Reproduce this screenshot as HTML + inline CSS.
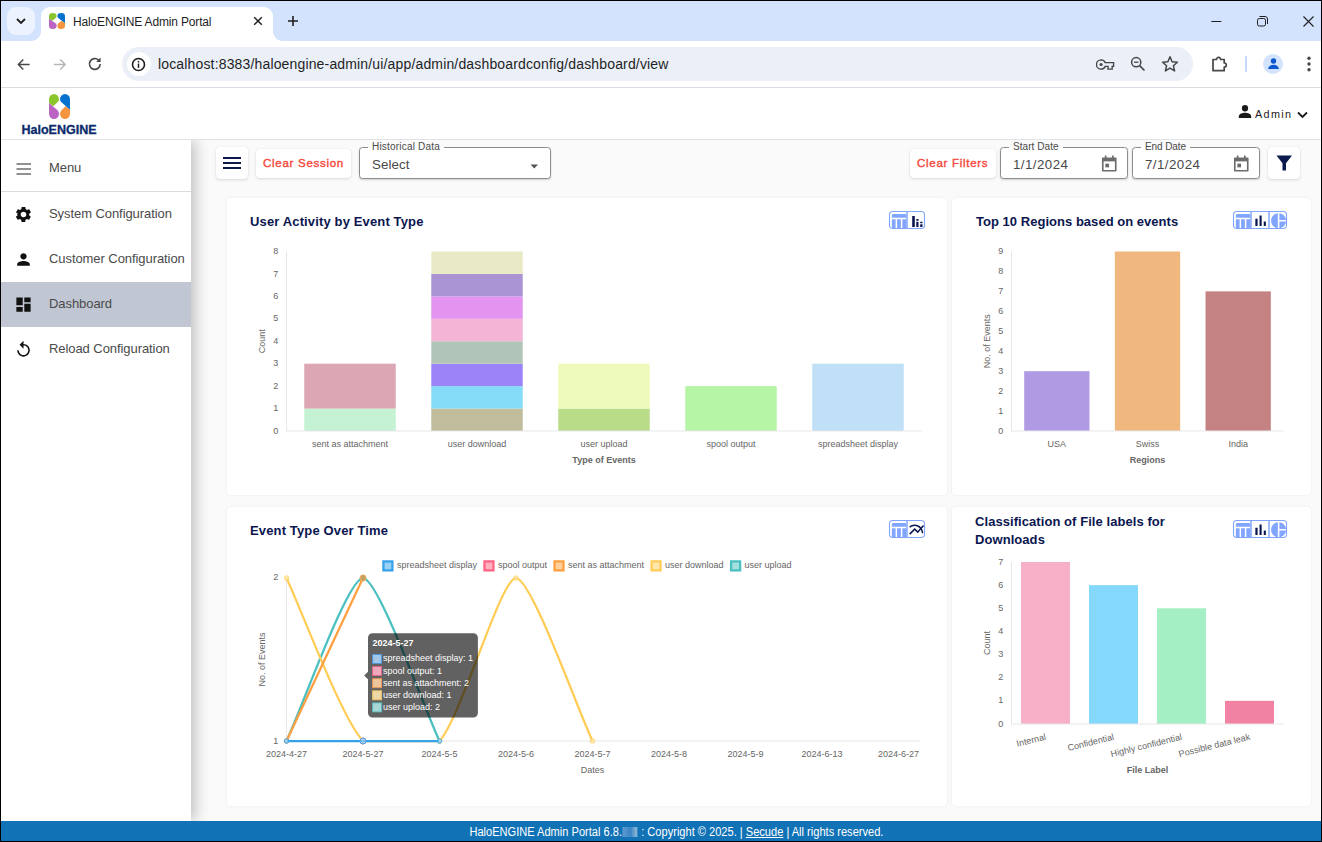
<!DOCTYPE html>
<html lang="en">
<head>
<meta charset="utf-8">
<title>HaloENGINE Admin Portal</title>
<style>
*{box-sizing:border-box;margin:0;padding:0}
html,body{width:1322px;height:842px;overflow:hidden;background:#000;font-family:"Liberation Sans",sans-serif}
.abs{position:absolute}
#win{position:absolute;left:1px;top:1px;width:1320px;height:840px;background:#fff;overflow:hidden}
/* ---------- browser chrome ---------- */
#tabstrip{position:absolute;left:0;top:0;width:1320px;height:40px;background:#d3e3fd}
#tabsearch{position:absolute;left:6px;top:6px;width:28px;height:28px;border-radius:9px;background:#ecf2fe}
#tab{position:absolute;left:40px;top:6px;width:232px;height:34px;background:#fff;border-radius:9px 9px 0 0}
#tab:before,#tab:after{content:"";position:absolute;bottom:0;width:10px;height:10px;background:radial-gradient(circle at 0 0,rgba(255,255,255,0) 9.5px,#fff 10.5px)}
#tab:before{left:-10px}
#tab:after{right:-10px;background:radial-gradient(circle at 100% 0,rgba(255,255,255,0) 9.5px,#fff 10.5px)}
#tabtitle{position:absolute;left:32px;top:8px;font-size:12px;color:#1f1f1f;white-space:nowrap;letter-spacing:-.16px}
#toolbar{position:absolute;left:0;top:40px;width:1320px;height:46px;background:#fff;border-radius:9px 0 0 0}
#toolbarline{position:absolute;left:0;top:86px;width:1320px;height:1px;background:#dadce0}
#omni{position:absolute;left:121px;top:46px;width:1071px;height:34px;border-radius:17px;background:#ebeff8}
#omniicon{position:absolute;left:4.5px;top:5px;width:24px;height:24px;border-radius:12px;background:#fff}
#url{position:absolute;left:36px;top:9px;font-size:14px;color:#1f1f1f;white-space:nowrap;letter-spacing:.155px}
/* ---------- app ---------- */
#apphead{position:absolute;left:0;top:87px;width:1320px;height:52px;background:#fff;border-bottom:1px solid #dfe2e6}
#side{position:absolute;left:0;top:139px;width:190px;height:681px;background:#fff;box-shadow:4px 0 14px rgba(0,0,0,.24);z-index:3;clip-path:inset(0 -40px 0 0)}
.sitem{position:absolute;left:0;width:190px;height:45px}
.sitem span{position:absolute;left:48px;top:14px;font-size:13px;color:#4a4a4a;white-space:nowrap;letter-spacing:-.07px}
.sitem svg{position:absolute;left:13px;top:13px}
#main{position:absolute;left:190px;top:139px;width:1130px;height:681px;background:#fafafa}
.card{position:absolute;background:#fff;border-radius:4px;box-shadow:0 0 3px rgba(0,0,0,.07)}
.ctitle{position:absolute;font-size:13px;font-weight:bold;color:#0b1650;white-space:nowrap;letter-spacing:.14px;line-height:18px}
.btn{position:absolute;background:#fff;border-radius:4px;box-shadow:0 1px 3px rgba(0,0,0,.13),0 0 1px rgba(0,0,0,.10)}
.btn span{position:absolute;white-space:nowrap;font-size:11.5px;font-weight:normal;color:#f4483c;letter-spacing:.72px;-webkit-text-stroke:.38px #f4483c}
.field{position:absolute;border:1px solid #8c8c8c;border-radius:3.500px;background:#fff;box-shadow:0 1px 2px rgba(0,0,0,.18)}
.field label{position:absolute;top:-7px;left:8px;background:linear-gradient(#fafafa 0,#fafafa 7px,#fff 7px);padding:0 4px;font-size:10px;color:#4a4a4a;white-space:nowrap;letter-spacing:.2px;line-height:12px}
.field .val{position:absolute;left:12px;top:9px;font-size:13.3px;color:#484848;white-space:nowrap;letter-spacing:.45px}
#footer{position:absolute;left:0;top:820px;width:1320px;height:20px;background:#1272b6;color:#fff;font-size:12px;text-align:center;line-height:22px;white-space:nowrap;padding-left:31px}
#footer>span{display:inline-block;transform:scaleX(.9225);transform-origin:50% 50%}
#footer u{text-decoration:underline}
svg text{font-family:"Liberation Sans",sans-serif}
</style>
</head>
<body>
<div id="win">
  <!-- browser chrome -->
  <div id="tabstrip">
    <div id="tabsearch"><svg class="abs" style="left:8px;top:9px" width="12" height="10" viewBox="0 0 12 10"><path d="M2 3 L6 7 L10 3" fill="none" stroke="#1f1f1f" stroke-width="1.8"/></svg></div>
    <div id="tab">
      <svg class="abs" style="left:8px;top:6px" width="16" height="16" viewBox="0 0 21 25" preserveAspectRatio="none"><use href="#halologo"/></svg>
      <div id="tabtitle">HaloENGINE Admin Portal</div>
      <svg class="abs" style="left:211px;top:8px" width="12" height="12" viewBox="0 0 12 12"><path d="M2.200 2.200 L9.800 9.800 M9.800 2.200 L2.200 9.800" stroke="#1f1f1f" stroke-width="1.500" fill="none"/></svg>
    </div>
    <svg class="abs" style="left:285px;top:13px" width="14" height="14" viewBox="0 0 14 14"><path d="M7 2 V12 M2 7 H12" stroke="#1f1f1f" stroke-width="1.600" fill="none"/></svg>
    <!-- window controls -->
    <svg class="abs" style="left:1210px;top:14px" width="12" height="12" viewBox="0 0 12 12"><path d="M0.3 6.5 H10.3" stroke="#1f1f1f" stroke-width="1"/></svg>
    <svg class="abs" style="left:1256px;top:14px" width="12" height="12" viewBox="0 0 12 12"><rect x="0.5" y="3.5" width="8" height="7.5" rx="1.800" fill="none" stroke="#1f1f1f" stroke-width="1"/><path d="M2.500 1.500 H8 A2.500 2.500 0 0 1 10.500 4 V9" fill="none" stroke="#1f1f1f" stroke-width="1"/></svg>
    <svg class="abs" style="left:1302px;top:15px" width="11" height="11" viewBox="0 0 11 11"><path d="M0.500 0.500 L10.500 10.500 M10.500 0.500 L0.500 10.500" stroke="#1f1f1f" stroke-width="1.100"/></svg>
  </div>
  <div id="toolbar"></div>
  <div id="toolbarline"></div>
  <!-- nav icons -->
  <svg class="abs" style="left:16px;top:56.500px" width="13.500" height="13" viewBox="0 0 15 14"><path d="M14 7 H2 M7 1.5 L1.5 7 L7 12.5" fill="none" stroke="#444746" stroke-width="1.6"/></svg>
  <svg class="abs" style="left:52px;top:56.500px" width="13.500" height="13" viewBox="0 0 15 14"><path d="M1 7 H13 M8 1.5 L13.5 7 L8 12.5" fill="none" stroke="#b4b6b9" stroke-width="1.6"/></svg>
  <svg class="abs" style="left:86px;top:55px" width="16" height="16" viewBox="0 0 16 16"><path d="M13.2 8 A5.4 5.4 0 1 1 11.6 4.1" fill="none" stroke="#444746" stroke-width="1.6"/><path d="M13.6 1.6 V6 H9.2 Z" fill="#444746"/></svg>
  <div id="omni">
    <div id="omniicon"><svg class="abs" style="left:4.500px;top:4.500px" width="15" height="15" viewBox="0 0 16 16"><circle cx="8" cy="8" r="6.400" fill="none" stroke="#1f1f1f" stroke-width="1.700"/><rect x="7.2" y="7" width="1.6" height="4.6" fill="#1f1f1f"/><rect x="7.2" y="4.2" width="1.6" height="1.7" fill="#1f1f1f"/></svg></div>
    <div id="url">localhost:8383/haloengine-admin/ui/app/admin/dashboardconfig/dashboard/view</div>
    <!-- key -->
    <svg class="abs" style="left:974px;top:10.500px" width="18.500" height="13" viewBox="0 0 20 14"><path d="M5.5 2 A5 5 0 1 0 5.5 12 A5 5 0 0 0 10 9 H13 V12 H17.5 V9 H19 V5 H10 A5 5 0 0 0 5.5 2 Z" fill="none" stroke="#444746" stroke-width="1.5"/><circle cx="5.5" cy="7" r="1.7" fill="#444746"/></svg>
    <!-- zoom -->
    <svg class="abs" style="left:1008px;top:9px" width="16" height="16" viewBox="0 0 16 16"><circle cx="6.2" cy="6.2" r="4.6" fill="none" stroke="#444746" stroke-width="1.5"/><path d="M9.6 9.6 L14.5 14.5" stroke="#444746" stroke-width="1.7"/><path d="M4 6.2 H8.4" stroke="#444746" stroke-width="1.3"/></svg>
    <!-- star -->
    <svg class="abs" style="left:1039px;top:8px" width="18" height="18" viewBox="0 0 18 18"><path d="M9 1.8 L11.1 6.7 L16.4 7.2 L12.4 10.7 L13.6 15.9 L9 13.1 L4.4 15.9 L5.6 10.7 L1.6 7.2 L6.9 6.7 Z" fill="none" stroke="#444746" stroke-width="1.5" stroke-linejoin="round"/></svg>
  </div>
  <!-- extension puzzle -->
  <svg class="abs" style="left:1210px;top:54px" width="18" height="18" viewBox="0 0 18 18"><path d="M2 4.500 H5.500 A2.100 2.100 0 1 1 9.700 4.500 H13.200 V8 A2.100 2.100 0 1 1 13.200 12.200 V15.700 H2 Z" fill="none" stroke="#444746" stroke-width="1.700" stroke-linejoin="round"/></svg>
  <div class="abs" style="left:1244px;top:55px;width:2px;height:16px;background:#c4d8f8;border-radius:1px"></div>
  <div class="abs" style="left:1262px;top:53px;width:20px;height:20px;border-radius:10px;background:#d3e3fd"></div>
  <svg class="abs" style="left:1265.500px;top:56px" width="13" height="13" viewBox="0 0 14 14"><circle cx="7" cy="4.3" r="2.9" fill="#0b57d0"/><path d="M1.2 13 A5.8 4.6 0 0 1 12.800 13 Z" fill="#0b57d0"/></svg>
  <svg class="abs" style="left:1306px;top:55px" width="4" height="16" viewBox="0 0 4 16"><circle cx="2" cy="2.300" r="1.700" fill="#444746"/><circle cx="2" cy="8" r="1.700" fill="#444746"/><circle cx="2" cy="13.700" r="1.700" fill="#444746"/></svg>

  <!-- app header -->
  <div id="apphead">
    <svg width="0" height="0" style="position:absolute"><defs>
      <g id="halologo">
        <path d="M0 5.2 A5 5.200 0 0 1 10 5.200 Q10 7 8.500 8.300 L4.200 12.300 L0 9 Z" fill="#8cc62d"/>
        <path d="M0 9 L8.500 16.200 Q10 17.800 10 19.800 A5 5.200 0 0 1 0 19.800 Z" fill="#ba63c2"/>
        <path d="M21 5.200 A5 5.200 0 0 0 11 5.200 Q11 7 12.500 8.300 L21 16 Z" fill="#0472ce"/>
        <path d="M16.500 12.200 L21 16 V19.800 A5 5.200 0 0 1 11 19.800 Q11 17.800 12.500 16.200 Z" fill="#f7943e"/>
      </g>
    </defs></svg>
    <svg class="abs" style="left:48px;top:6px" width="21" height="25" viewBox="0 0 21 25"><use href="#halologo"/></svg>
    <div class="abs" style="left:20.500px;top:36px;font-size:12.5px;font-weight:bold;color:#0b2a6b;white-space:nowrap;letter-spacing:0;line-height:12px;-webkit-text-stroke:.3px #0b2a6b">HaloENGINE</div>
    <svg class="abs" style="left:1237px;top:16px" width="14" height="15" viewBox="0 0 14 14" preserveAspectRatio="none"><circle cx="7" cy="4" r="3.100" fill="#1a1a1a"/><path d="M0.800 13 V11.600 C0.800 9.200 4.800 8.200 7 8.200 C9.200 8.200 13.200 9.200 13.200 11.600 V13 Z" fill="#1a1a1a"/></svg>
    <div class="abs" style="left:1254px;top:20px;font-size:10.800px;color:#222;letter-spacing:1.35px;white-space:nowrap;line-height:13px">Admin</div>
    <svg class="abs" style="left:1296px;top:22.500px" width="11" height="8" viewBox="0 0 11 8"><path d="M1 1.500 L5.500 6 L10 1.500" fill="none" stroke="#1a1a1a" stroke-width="1.800"/></svg>
  </div>

  <!-- main -->
  <div id="main"></div>

  <!-- sidebar -->
  <div id="side">
    <div class="sitem" style="top:6px"><svg width="19" height="19" viewBox="0 0 19 19"><path d="M2.500 5 H17 M2.500 10 H17 M2.500 15 H17" stroke="#222" stroke-width="1.200"/></svg><span>Menu</span></div>
    <div class="abs" style="left:0;top:51px;width:190px;height:1px;background:#dcdcdc"></div>
    <div class="sitem" style="top:52px"><svg width="19" height="19" viewBox="0 0 24 24"><path fill="#111" d="M19.140 12.940c.04-.3.060-.61.060-.94 0-.32-.02-.64-.07-.94l2.030-1.580c.18-.14.230-.41.120-.61l-1.920-3.320c-.12-.22-.37-.29-.59-.22l-2.390.96c-.5-.38-1.030-.7-1.620-.94l-.36-2.540c-.04-.24-.24-.41-.48-.41h-3.840c-.24 0-.43.170-.47.410l-.36 2.540c-.59.240-1.130.57-1.620.94l-2.390-.96c-.22-.08-.47 0-.59.220L2.740 8.870c-.12.210-.8.470.12.610l2.030 1.580c-.5.300-.9.630-.9.940s.2.640.7.940l-2.030 1.580c-.18.140-.23.410-.12.610l1.920 3.320c.12.220.37.290.59.220l2.390-.96c.5.380 1.030.7 1.620.94l.36 2.540c.5.240.24.410.48.410h3.840c.24 0 .44-.17.470-.41l.36-2.540c.59-.24 1.130-.56 1.620-.94l2.390.96c.22.080.47 0 .59-.22l1.920-3.320c.12-.22.070-.47-.12-.61l-2.010-1.580zM12 15.600c-1.980 0-3.600-1.620-3.600-3.600s1.620-3.600 3.600-3.600 3.600 1.620 3.600 3.600-1.620 3.600-3.600 3.600z"/></svg><span>System Configuration</span></div>
    <div class="sitem" style="top:97px"><svg width="19" height="19" viewBox="0 0 24 24"><path fill="#111" d="M12 12c2.210 0 4-1.790 4-4s-1.790-4-4-4-4 1.790-4 4 1.790 4 4 4zm0 2c-2.670 0-8 1.340-8 4v2h16v-2c0-2.660-5.330-4-8-4z"/></svg><span>Customer Configuration</span></div>
    <div class="sitem" style="top:142px;background:#c0c7d2"><svg width="19" height="19" viewBox="0 0 24 24"><path fill="#111" d="M3 13h8V3H3v10zm0 8h8v-6H3v6zm10 0h8V11h-8v10zm0-18v6h8V3h-8z"/></svg><span>Dashboard</span></div>
    <div class="sitem" style="top:187px"><svg width="19" height="19" viewBox="0 0 24 24"><path fill="#111" d="M12 5V1L7 6l5 5V7c3.310 0 6 2.690 6 6s-2.690 6-6 6-6-2.690-6-6H4c0 4.420 3.580 8 8 8s8-3.580 8-8-3.580-8-8-8z"/></svg><span>Reload Configuration</span></div>
  </div>

  <!-- toolbar row -->
  <div class="btn" style="left:215px;top:146px;width:32px;height:32px"><svg class="abs" style="left:7px;top:10px" width="18" height="12" viewBox="0 0 18 12"><path d="M0 1 H18 M0 6 H18 M0 11 H18" stroke="#0b1a4d" stroke-width="1.800"/></svg></div>
  <div class="btn" style="left:255px;top:148px;width:95px;height:29px"><span style="left:7px;top:8px">Clear Session</span></div>
  <div class="field" style="left:358px;top:146px;width:192px;height:32px"><label>Historical Data</label><div class="val" style="left:12px;letter-spacing:.1px">Select</div><svg class="abs" style="left:170px;top:15.500px" width="8.500" height="5" viewBox="0 0 10 6"><path d="M0.500 0.500 H9.500 L5 5.300 Z" fill="#555"/></svg></div>
  <div class="btn" style="left:909px;top:148px;width:86px;height:29px"><span style="left:7px;top:8px">Clear Filters</span></div>
  <div class="field" style="left:999px;top:146px;width:128px;height:32px"><label style="letter-spacing:.07px">Start Date</label><div class="val">1/1/2024</div><svg class="abs cal" style="left:99.500px;top:6.500px" width="16.500" height="17.500" viewBox="0 0 16 17"><use href="#calicon"/></svg></div>
  <div class="field" style="left:1131px;top:146px;width:128px;height:32px"><label style="letter-spacing:-.1px">End Date</label><div class="val">7/1/2024</div><svg class="abs cal" style="left:99.500px;top:6.500px" width="16.500" height="17.500" viewBox="0 0 16 17"><use href="#calicon"/></svg></div>
  <svg width="0" height="0" style="position:absolute"><defs><g id="calicon"><path d="M1.700 3.200 H14.300 V15.300 H1.700 Z" fill="none" stroke="#6c6c6c" stroke-width="1.600" stroke-linejoin="round"/><path d="M1.700 3.200 H14.300 V6.200 H1.700 Z" fill="#6c6c6c"/><path d="M4.500 0.600 V3.500 M11.500 0.600 V3.500" stroke="#6c6c6c" stroke-width="1.600"/><rect x="4.200" y="8.400" width="3.600" height="3.600" fill="#6c6c6c"/></g></defs></svg>
  <div class="btn" style="left:1267px;top:146px;width:32px;height:32px"><svg class="abs" style="left:8px;top:8px" width="16.500" height="16.500" viewBox="0 0 17 17"><path d="M0.500 0.500 H16.500 L10.300 8.400 V16 H6.700 V8.400 Z" fill="#0b1a4d"/></svg></div>

  <!-- cards -->
  <div class="card" id="c1" style="left:226px;top:197px;width:720px;height:297px"><div class="ctitle" style="left:23px;top:15px">User Activity by Event Type</div></div>
  <div class="card" id="c2" style="left:951px;top:197px;width:359px;height:297px"><div class="ctitle" style="left:24px;top:15px;letter-spacing:.03px">Top 10 Regions based on events</div></div>
  <div class="card" id="c3" style="left:226px;top:506px;width:720px;height:299px"><div class="ctitle" style="left:23px;top:15px">Event Type Over Time</div></div>
  <div class="card" id="c4" style="left:951px;top:506px;width:359px;height:299px"><div class="ctitle" style="left:23px;top:6px;white-space:normal;width:230px;letter-spacing:.065px">Classification of File labels for Downloads</div></div>

<!--CHARTS-->
<svg id="charts" class="abs" style="left:0;top:0" width="1320" height="840" viewBox="1 1 1320 840">
<g id="chart1">
<rect x="304.28" y="408.56" width="91.44" height="22.44" fill="#c4f2d2"/>
<rect x="304.28" y="363.69" width="91.44" height="44.88" fill="#dda6b4"/>
<text x="350" y="447" text-anchor="middle" font-size="9" fill="#666">sent as attachment</text>
<rect x="431.28" y="408.56" width="91.44" height="22.44" fill="#c0bc9c"/>
<rect x="431.28" y="386.12" width="91.44" height="22.44" fill="#84dcf8"/>
<rect x="431.28" y="363.69" width="91.44" height="22.44" fill="#9c84f8"/>
<rect x="431.28" y="341.25" width="91.44" height="22.44" fill="#b0c4b8"/>
<rect x="431.28" y="318.81" width="91.44" height="22.44" fill="#f4b4d6"/>
<rect x="431.28" y="296.38" width="91.44" height="22.44" fill="#e294f0"/>
<rect x="431.28" y="273.94" width="91.44" height="22.44" fill="#aa94d4"/>
<rect x="431.28" y="251.5" width="91.44" height="22.44" fill="#e8eac6"/>
<text x="477" y="447" text-anchor="middle" font-size="9" fill="#666">user download</text>
<rect x="558.28" y="408.56" width="91.44" height="22.44" fill="#b8dc88"/>
<rect x="558.28" y="363.69" width="91.44" height="44.88" fill="#eefabc"/>
<text x="604" y="447" text-anchor="middle" font-size="9" fill="#666">user upload</text>
<rect x="685.28" y="386.12" width="91.44" height="44.88" fill="#b6f4a6"/>
<text x="731" y="447" text-anchor="middle" font-size="9" fill="#666">spool output</text>
<rect x="812.28" y="363.69" width="91.44" height="67.31" fill="#c0e0f8"/>
<text x="858" y="447" text-anchor="middle" font-size="9" fill="#666">spreadsheet display</text>
<line x1="286.5" y1="251.5" x2="286.5" y2="431.5" stroke="#e7e7e7" stroke-width="1"/>
<line x1="286" y1="431" x2="921.5" y2="431" stroke="#e7e7e7" stroke-width="1"/>
<text x="278.2" y="433.6" text-anchor="end" font-size="9" fill="#666">0</text>
<text x="278.2" y="411.16" text-anchor="end" font-size="9" fill="#666">1</text>
<text x="278.2" y="388.73" text-anchor="end" font-size="9" fill="#666">2</text>
<text x="278.2" y="366.29" text-anchor="end" font-size="9" fill="#666">3</text>
<text x="278.2" y="343.85" text-anchor="end" font-size="9" fill="#666">4</text>
<text x="278.2" y="321.41" text-anchor="end" font-size="9" fill="#666">5</text>
<text x="278.2" y="298.98" text-anchor="end" font-size="9" fill="#666">6</text>
<text x="278.2" y="276.54" text-anchor="end" font-size="9" fill="#666">7</text>
<text x="278.2" y="254.1" text-anchor="end" font-size="9" fill="#666">8</text>
<text x="604" y="463" text-anchor="middle" font-size="9" font-weight="bold" fill="#666">Type of Events</text>
<text transform="translate(264.8 341.25) rotate(-90)" text-anchor="middle" font-size="9" fill="#666">Count</text>
</g>
<g id="chart2">
<rect x="1024.19" y="371.17" width="65.28" height="59.83" fill="#b09ae4"/>
<text x="1056.83" y="447" text-anchor="middle" font-size="9" fill="#666">USA</text>
<rect x="1114.86" y="251.5" width="65.28" height="179.5" fill="#f0b87e"/>
<text x="1147.5" y="447" text-anchor="middle" font-size="9" fill="#666">Swiss</text>
<rect x="1205.53" y="291.39" width="65.28" height="139.61" fill="#c58282"/>
<text x="1238.17" y="447" text-anchor="middle" font-size="9" fill="#666">India</text>
<line x1="1011.5" y1="251.5" x2="1011.5" y2="431.5" stroke="#e7e7e7" stroke-width="1"/>
<line x1="1011" y1="431" x2="1283.5" y2="431" stroke="#e7e7e7" stroke-width="1"/>
<text x="1003.2" y="433.6" text-anchor="end" font-size="9" fill="#666">0</text>
<text x="1003.2" y="413.66" text-anchor="end" font-size="9" fill="#666">1</text>
<text x="1003.2" y="393.71" text-anchor="end" font-size="9" fill="#666">2</text>
<text x="1003.2" y="373.77" text-anchor="end" font-size="9" fill="#666">3</text>
<text x="1003.2" y="353.82" text-anchor="end" font-size="9" fill="#666">4</text>
<text x="1003.2" y="333.88" text-anchor="end" font-size="9" fill="#666">5</text>
<text x="1003.2" y="313.93" text-anchor="end" font-size="9" fill="#666">6</text>
<text x="1003.2" y="293.99" text-anchor="end" font-size="9" fill="#666">7</text>
<text x="1003.2" y="274.04" text-anchor="end" font-size="9" fill="#666">8</text>
<text x="1003.2" y="254.1" text-anchor="end" font-size="9" fill="#666">9</text>
<text x="1147.5" y="463" text-anchor="middle" font-size="9" font-weight="bold" fill="#666">Regions</text>
<text transform="translate(990.2 341.25) rotate(-90)" text-anchor="middle" font-size="9" fill="#666">No. of Events</text>
</g>
<g id="chart4">
<rect x="1021.02" y="562" width="48.96" height="162" fill="#f7b0c8"/>
<text transform="translate(1046.5 739.5) rotate(-14)" text-anchor="end" font-size="9" fill="#666">Internal</text>
<rect x="1089.02" y="585.14" width="48.96" height="138.86" fill="#84d8fc"/>
<text transform="translate(1114.5 739.5) rotate(-14)" text-anchor="end" font-size="9" fill="#666">Confidential</text>
<rect x="1157.02" y="608.29" width="48.96" height="115.71" fill="#a4f0c4"/>
<text transform="translate(1182.5 739.5) rotate(-14)" text-anchor="end" font-size="9" fill="#666">Highly confidential</text>
<rect x="1225.02" y="700.86" width="48.96" height="23.14" fill="#f282a4"/>
<text transform="translate(1250.5 739.5) rotate(-14)" text-anchor="end" font-size="9" fill="#666">Possible data leak</text>
<line x1="1011.5" y1="562" x2="1011.5" y2="724.5" stroke="#e7e7e7" stroke-width="1"/>
<line x1="1011" y1="724" x2="1283.5" y2="724" stroke="#e7e7e7" stroke-width="1"/>
<text x="1003.2" y="726.6" text-anchor="end" font-size="9" fill="#666">0</text>
<text x="1003.2" y="703.46" text-anchor="end" font-size="9" fill="#666">1</text>
<text x="1003.2" y="680.31" text-anchor="end" font-size="9" fill="#666">2</text>
<text x="1003.2" y="657.17" text-anchor="end" font-size="9" fill="#666">3</text>
<text x="1003.2" y="634.03" text-anchor="end" font-size="9" fill="#666">4</text>
<text x="1003.2" y="610.89" text-anchor="end" font-size="9" fill="#666">5</text>
<text x="1003.2" y="587.74" text-anchor="end" font-size="9" fill="#666">6</text>
<text x="1003.2" y="564.6" text-anchor="end" font-size="9" fill="#666">7</text>
<text x="1147.5" y="773" text-anchor="middle" font-size="9" font-weight="bold" fill="#666">File Label</text>
<text transform="translate(990.2 643) rotate(-90)" text-anchor="middle" font-size="9" fill="#666">Count</text>
</g>
<g id="chart3">
<line x1="286.5" y1="578" x2="286.5" y2="741.5" stroke="#e7e7e7" stroke-width="1"/>
<line x1="286" y1="741" x2="919.5" y2="741" stroke="#e7e7e7" stroke-width="1"/>
<text x="286.5" y="757" text-anchor="middle" font-size="9" fill="#666">2024-4-27</text>
<text x="363" y="757" text-anchor="middle" font-size="9" fill="#666">2024-5-27</text>
<text x="439.5" y="757" text-anchor="middle" font-size="9" fill="#666">2024-5-5</text>
<text x="516" y="757" text-anchor="middle" font-size="9" fill="#666">2024-5-6</text>
<text x="592.5" y="757" text-anchor="middle" font-size="9" fill="#666">2024-5-7</text>
<text x="669" y="757" text-anchor="middle" font-size="9" fill="#666">2024-5-8</text>
<text x="745.5" y="757" text-anchor="middle" font-size="9" fill="#666">2024-5-9</text>
<text x="822" y="757" text-anchor="middle" font-size="9" fill="#666">2024-6-13</text>
<text x="898.5" y="757" text-anchor="middle" font-size="9" fill="#666">2024-6-27</text>
<text x="278.2" y="580.2" text-anchor="end" font-size="9" fill="#666">2</text>
<text x="278.2" y="743.6" text-anchor="end" font-size="9" fill="#666">1</text>
<text x="592.5" y="772.7" text-anchor="middle" font-size="9" fill="#666">Dates</text>
<text transform="translate(264.8 659.5) rotate(-90)" text-anchor="middle" font-size="9" fill="#666">No. of Events</text>
<path d="M286.5 741 C301.8 708.4 347.7 578 363 578 C378.3 578 424.2 708.4 439.5 741" fill="none" stroke="#4bc0c0" stroke-width="2.25" stroke-linecap="butt"/>
<circle cx="286.5" cy="741" r="2.25" fill="#a5dfdf" fill-opacity=".7" stroke="#4bc0c0" stroke-width=".75"/>
<circle cx="363" cy="578" r="3" fill="#a5dfdf" fill-opacity=".7" stroke="#4bc0c0" stroke-width=".75"/>
<circle cx="439.5" cy="741" r="2.25" fill="#a5dfdf" fill-opacity=".7" stroke="#4bc0c0" stroke-width=".75"/>
<path d="M286.5 578 C301.8 610.6 341.52 718.12 363 741 C372.12 741 430.38 741 439.5 741 C460.98 718.12 500.7 578 516 578 C531.3 578 577.2 708.4 592.5 741" fill="none" stroke="#ffcd56" stroke-width="2.25" stroke-linecap="butt"/>
<circle cx="286.5" cy="578" r="2.25" fill="#ffe6aa" fill-opacity=".7" stroke="#ffcd56" stroke-width=".75"/>
<circle cx="363" cy="741" r="3" fill="#ffe6aa" fill-opacity=".7" stroke="#ffcd56" stroke-width=".75"/>
<circle cx="439.5" cy="741" r="2.25" fill="#ffe6aa" fill-opacity=".7" stroke="#ffcd56" stroke-width=".75"/>
<circle cx="516" cy="578" r="2.25" fill="#ffe6aa" fill-opacity=".7" stroke="#ffcd56" stroke-width=".75"/>
<circle cx="592.5" cy="741" r="2.25" fill="#ffe6aa" fill-opacity=".7" stroke="#ffcd56" stroke-width=".75"/>
<path d="M286.5 741 C301.8 708.4 347.7 610.6 363 578" fill="none" stroke="#ff9f40" stroke-width="2.25" stroke-linecap="butt"/>
<circle cx="286.5" cy="741" r="2.25" fill="#ffcf9f" fill-opacity=".7" stroke="#ff9f40" stroke-width=".75"/>
<circle cx="363" cy="578" r="3" fill="#ffcf9f" fill-opacity=".7" stroke="#ff9f40" stroke-width=".75"/>
<circle cx="363" cy="741" r="3" fill="#ffb1c1" fill-opacity=".7" stroke="#ff6384" stroke-width=".75"/>
<path d="M286.5 741 C301.8 741 347.7 741 363 741 C378.3 741 424.2 741 439.5 741" fill="none" stroke="#36a2eb" stroke-width="2.25" stroke-linecap="butt"/>
<circle cx="286.5" cy="741" r="2.25" fill="#9ad0f5" fill-opacity=".7" stroke="#36a2eb" stroke-width=".75"/>
<circle cx="363" cy="741" r="3" fill="#9ad0f5" fill-opacity=".7" stroke="#36a2eb" stroke-width=".75"/>
<circle cx="439.5" cy="741" r="2.25" fill="#9ad0f5" fill-opacity=".7" stroke="#36a2eb" stroke-width=".75"/>
<circle cx="363" cy="578" r="2.25" fill="#b9a46c" stroke="#e2994a" stroke-width=".75"/>
<rect x="383.4" y="561.4" width="9" height="9" fill="#9ad0f5" stroke="#36a2eb" stroke-width="2.25"/>
<text x="396.9" y="567.8" text-anchor="start" font-size="9" fill="#666">spreadsheet display</text>
<rect x="484.46" y="561.4" width="9" height="9" fill="#ffb1c1" stroke="#ff6384" stroke-width="2.25"/>
<text x="497.96" y="567.8" text-anchor="start" font-size="9" fill="#666">spool output</text>
<rect x="554.51" y="561.4" width="9" height="9" fill="#ffcf9f" stroke="#ff9f40" stroke-width="2.25"/>
<text x="568.01" y="567.8" text-anchor="start" font-size="9" fill="#666">sent as attachment</text>
<rect x="651.56" y="561.4" width="9" height="9" fill="#ffe6aa" stroke="#ffcd56" stroke-width="2.25"/>
<text x="665.06" y="567.8" text-anchor="start" font-size="9" fill="#666">user download</text>
<rect x="731.1" y="561.4" width="9" height="9" fill="#a5dfdf" stroke="#4bc0c0" stroke-width="2.25"/>
<text x="744.6" y="567.8" text-anchor="start" font-size="9" fill="#666">user upload</text>
<path d="M372.5 633.3 H473.4 A4.5 4.5 0 0 1 477.9 637.8 V713.1 A4.5 4.5 0 0 1 473.4 717.6 H372.5 A4.5 4.5 0 0 1 368 713.1 V679.3 L364.2 675.5 L368 671.7 V637.8 A4.5 4.5 0 0 1 372.5 633.3 Z" fill="#000" fill-opacity=".62"/>
<text x="372.6" y="646.1" text-anchor="start" font-size="9" font-weight="bold" fill="#fff">2024-5-27</text>
<rect x="372.6" y="654.5" width="9" height="9" fill="#a0c6e8" stroke="#4a96dc" stroke-width=".9"/>
<text x="382.9" y="661.4" text-anchor="start" font-size="9" fill="#fff">spreadsheet display: 1</text>
<rect x="372.6" y="666.6" width="9" height="9" fill="#f0a8bc" stroke="#e46488" stroke-width=".9"/>
<text x="382.9" y="673.5" text-anchor="start" font-size="9" fill="#fff">spool output: 1</text>
<rect x="372.6" y="678.7" width="9" height="9" fill="#eec49c" stroke="#ec9650" stroke-width=".9"/>
<text x="382.9" y="685.6" text-anchor="start" font-size="9" fill="#fff">sent as attachment: 2</text>
<rect x="372.6" y="690.8" width="9" height="9" fill="#ecd6a4" stroke="#eec464" stroke-width=".9"/>
<text x="382.9" y="697.7" text-anchor="start" font-size="9" fill="#fff">user download: 1</text>
<rect x="372.6" y="702.9" width="9" height="9" fill="#a6d6d6" stroke="#58bebe" stroke-width=".9"/>
<text x="382.9" y="709.8" text-anchor="start" font-size="9" fill="#fff">user upload: 2</text>
</g>
<g class="tgl">
<rect x="889.5" y="211.5" width="35" height="17" rx="3.2" fill="#fff" stroke="#82a6ff" stroke-width="1.1"/>
<path transform="translate(889.6 211.8) scale(.75)" d="M10 10.02h5V22.500h-5zM17 22.500h5.300v-12.500h-5.300v12.500zm3-19.500H5c-1.1 0-2 .9-2 2v3h19.300V5c0-1.1-.9-2-2-2zM3 20.500c0 1.1.9 2 2 2h3V10H3v10.500z" fill="#82a6ff"/>
<line x1="907" y1="211.5" x2="907" y2="228.5" stroke="#82a6ff" stroke-width="1.500"/>
</g>
<path d="M912.2 216h2.6v11h-2.6zM916.3 219h2.2v1.700h-2.2zM916.3 221.800h2.2v5.200h-2.2zM920.2 221.800h2.300v1.400h-2.300zM920.2 224.200h2.300v2.800h-2.300z" fill="#0b1650"/>
<g class="tgl">
<rect x="1233.5" y="211.5" width="53" height="17" rx="3.2" fill="#fff" stroke="#82a6ff" stroke-width="1.1"/>
<path transform="translate(1233.6 211.8) scale(.75)" d="M10 10.02h5V22.500h-5zM17 22.500h5.300v-12.500h-5.300v12.500zm3-19.500H5c-1.1 0-2 .9-2 2v3h19.300V5c0-1.1-.9-2-2-2zM3 20.500c0 1.1.9 2 2 2h3V10H3v10.500z" fill="#82a6ff"/>
<line x1="1251" y1="211.5" x2="1251" y2="228.5" stroke="#82a6ff" stroke-width="1.500"/>
<path transform="translate(1251.6 211.8) scale(.75)" d="M5 9.2h3V19H5zM10.6 5h2.8v14h-2.8zm5.6 8H19v6h-2.8z" fill="#0b1650"/>
<line x1="1269" y1="211.5" x2="1269" y2="228.5" stroke="#82a6ff" stroke-width="1.500"/>
<path transform="translate(1269.6 211.8) scale(.75)" d="M11 2v20c-5.07-.5-9-4.79-9-10s3.930-9.500 9-10zm2.030 0v8.990H22c-.47-4.740-4.240-8.520-8.970-8.990zm0 11.010V22c4.740-.47 8.500-4.250 8.970-8.990h-8.970z" fill="#82a6ff"/>
</g>
<g class="tgl">
<rect x="889.5" y="520.5" width="35" height="17" rx="3.2" fill="#fff" stroke="#82a6ff" stroke-width="1.1"/>
<path transform="translate(889.6 520.8) scale(.75)" d="M10 10.02h5V22.500h-5zM17 22.500h5.300v-12.500h-5.300v12.500zm3-19.500H5c-1.1 0-2 .9-2 2v3h19.300V5c0-1.1-.9-2-2-2zM3 20.500c0 1.1.9 2 2 2h3V10H3v10.500z" fill="#82a6ff"/>
<line x1="907" y1="520.5" x2="907" y2="537.5" stroke="#82a6ff" stroke-width="1.500"/>
<path transform="translate(907.6 520.8) scale(.75)" d="M22 6.920l-1.410-1.410-2.850 3.210C15.680 6.400 12.830 5 9.610 5 6.720 5 4.070 6.160 2 8l1.420 1.420C5.120 7.930 7.270 7 9.610 7c2.740 0 5.090 1.260 6.770 3.240l-2.880 3.240-4-4L2 16.990l1.500 1.500 6-6.010 4 4 4.050-4.550c.75 1.350 1.250 2.900 1.440 4.550H21c-.22-2.300-.95-4.390-2.040-6.140L22 6.920z" fill="#0b1650"/>
</g>
<g class="tgl">
<rect x="1233.5" y="520.5" width="53" height="17" rx="3.2" fill="#fff" stroke="#82a6ff" stroke-width="1.1"/>
<path transform="translate(1233.6 520.8) scale(.75)" d="M10 10.02h5V22.500h-5zM17 22.500h5.300v-12.500h-5.300v12.500zm3-19.500H5c-1.1 0-2 .9-2 2v3h19.300V5c0-1.1-.9-2-2-2zM3 20.500c0 1.1.9 2 2 2h3V10H3v10.500z" fill="#82a6ff"/>
<line x1="1251" y1="520.5" x2="1251" y2="537.5" stroke="#82a6ff" stroke-width="1.500"/>
<path transform="translate(1251.6 520.8) scale(.75)" d="M5 9.2h3V19H5zM10.6 5h2.8v14h-2.8zm5.6 8H19v6h-2.8z" fill="#0b1650"/>
<line x1="1269" y1="520.5" x2="1269" y2="537.5" stroke="#82a6ff" stroke-width="1.500"/>
<path transform="translate(1269.6 520.8) scale(.75)" d="M11 2v20c-5.07-.5-9-4.79-9-10s3.930-9.500 9-10zm2.030 0v8.990H22c-.47-4.740-4.240-8.520-8.970-8.990zm0 11.010V22c4.740-.47 8.500-4.250 8.970-8.990h-8.970z" fill="#82a6ff"/>
</g>
</svg>
<!--/CHARTS-->
  <div id="footer"><span>HaloENGINE Admin Portal 6.8.<i style="display:inline-block;width:15.500px;height:10px;background:linear-gradient(90deg,#5e9bd2,#3a84c4 55%,#94bcd8);vertical-align:-1px;margin:0 1px"></i> : Copyright © 2025. | <u>Secude</u> | All rights reserved.</span></div>
</div>
</body>
</html>
